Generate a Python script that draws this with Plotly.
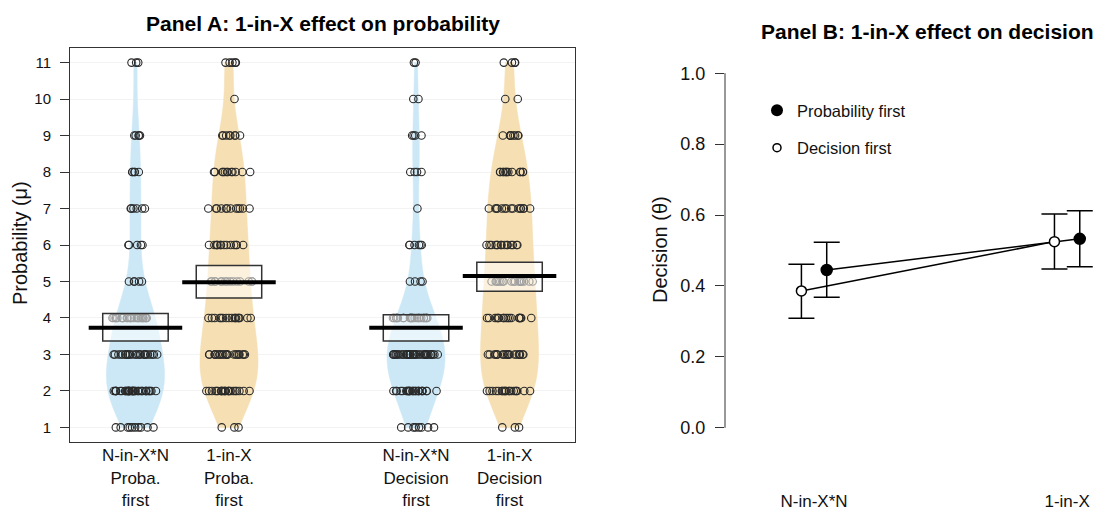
import numpy as np
import plotly.graph_objects as go

# ---------------- data ----------------
levels = list(range(1, 12))
group_labels = ["N-in-X*N<br>Proba.<br>first", "1-in-X<br>Proba.<br>first",
                "N-in-X*N<br>Decision<br>first", "1-in-X<br>Decision<br>first"]
group_pos = [1, 2, 4, 5]
counts_nxn_proba = [10, 38, 26, 24, 5, 5, 6, 5, 5, 0, 3]
counts_1x_proba = [3, 23, 22, 17, 15, 14, 12, 12, 8, 1, 5]
counts_nxn_dec = [8, 26, 40, 22, 4, 6, 1, 4, 4, 2, 2]
counts_1x_dec = [3, 20, 20, 18, 17, 15, 15, 13, 8, 2, 4]
mean_a = [3.73, 4.98, 3.73, 5.15]
ci_low_a = [3.37, 4.55, 3.37, 4.73]
ci_high_a = [4.12, 5.44, 4.09, 5.53]

b_categories = ["N-in-X*N", "1-in-X"]
b_pos = [1, 2]
prob_first = [0.445, 0.533]
prob_first_lo = [0.368, 0.454]
prob_first_hi = [0.523, 0.612]
dec_first = [0.386, 0.525]
dec_first_lo = [0.309, 0.448]
dec_first_hi = [0.461, 0.603]

# ---------------- style ----------------
FONT = "Liberation Sans, Arial, sans-serif"
BLUE = "#cce8f6"
ORANGE = "#f5dfb3"
violin_colors = [BLUE, ORANGE, BLUE, ORANGE]
W, H = 1099, 511


def px_x(p):
    return p / W


def px_y(p):
    return 1 - p / H


fig = go.Figure()

all_counts = [counts_nxn_proba, counts_1x_proba, counts_nxn_dec, counts_1x_dec]
for counts, pos, col in zip(all_counts, group_pos, violin_colors):
    vals = np.repeat(levels, counts)
    fig.add_trace(go.Violin(
        y=vals, x0=pos, xaxis="x", yaxis="y",
        width=0.62, scalemode="width", spanmode="hard", bandwidth=0.8,
        fillcolor=col, line=dict(color=col, width=0.5),
        points="all", pointpos=0, jitter=0.8,
        marker=dict(symbol="circle-open", size=7.5, color="#2a2a2a",
                    line=dict(width=1.1, color="#2a2a2a")),
        box_visible=False, meanline_visible=False,
        showlegend=False, hoverinfo="skip"))

shapes = []
for pos, m, lo, hi in zip(group_pos, mean_a, ci_low_a, ci_high_a):
    shapes.append(dict(type="rect", xref="x", yref="y", x0=pos - 0.35, x1=pos + 0.35,
                       y0=lo, y1=hi, fillcolor="rgba(255,255,255,0.55)",
                       line=dict(color="#333", width=1.5), layer="above"))
    shapes.append(dict(type="line", xref="x", yref="y", x0=pos - 0.5, x1=pos + 0.5,
                       y0=m, y1=m, line=dict(color="black", width=4), layer="above"))

# Panel B
dodge = 0.05
fig.add_trace(go.Scatter(
    x=[p + dodge for p in b_pos], y=prob_first, xaxis="x2", yaxis="y2",
    mode="lines+markers", line=dict(color="black", width=1.5),
    marker=dict(symbol="circle", size=11, color="black", line=dict(color="black", width=1.5)),
    error_y=dict(type="data", symmetric=False,
                 array=[h - v for h, v in zip(prob_first_hi, prob_first)],
                 arrayminus=[v - l for l, v in zip(prob_first_lo, prob_first)],
                 color="black", thickness=1.5, width=13),
    showlegend=False, hoverinfo="skip"))
fig.add_trace(go.Scatter(
    x=[p - dodge for p in b_pos], y=dec_first, xaxis="x2", yaxis="y2",
    mode="lines+markers", line=dict(color="black", width=1.5),
    marker=dict(symbol="circle", size=10, color="white", line=dict(color="black", width=1.5)),
    error_y=dict(type="data", symmetric=False,
                 array=[h - v for h, v in zip(dec_first_hi, dec_first)],
                 arrayminus=[v - l for l, v in zip(dec_first_lo, dec_first)],
                 color="black", thickness=1.5, width=13),
    showlegend=False, hoverinfo="skip"))
# legend entries
fig.add_trace(go.Scatter(x=[None], y=[None], xaxis="x2", yaxis="y2", mode="markers",
                         name="Probability first", legendgroup="a",
                         marker=dict(symbol="circle", size=12, color="black")))
fig.add_trace(go.Scatter(x=[None], y=[None], xaxis="x2", yaxis="y2", mode="markers",
                         name="Decision first", legendgroup="b",
                         marker=dict(symbol="circle", size=8, color="white",
                                     line=dict(color="black", width=1.5))))

shapes.append(dict(type="line", xref="x2 domain", yref="y2", x0=0, x1=0, y0=0, y1=1,
                   line=dict(color="#333", width=1), layer="above"))

annotations = [
    dict(text="<b>Panel A: 1-in-X effect on probability</b>", x=px_x(322.5), y=px_y(23),
         xref="paper", yref="paper", xanchor="center", yanchor="middle", showarrow=False,
         font=dict(family=FONT, size=21, color="black")),
    dict(text="<b>Panel B: 1-in-X effect on decision</b>", x=px_x(927), y=px_y(31),
         xref="paper", yref="paper", xanchor="center", yanchor="middle", showarrow=False,
         font=dict(family=FONT, size=21, color="black")),
    dict(text="Probability (\u03bc)", x=px_x(20), y=px_y(243), textangle=-90,
         xref="paper", yref="paper", xanchor="center", yanchor="middle", showarrow=False,
         font=dict(family=FONT, size=20, color="#111")),
    dict(text="Decision (\u03b8)", x=px_x(660), y=px_y(250), textangle=-90,
         xref="paper", yref="paper", xanchor="center", yanchor="middle", showarrow=False,
         font=dict(family=FONT, size=20, color="#111")),
]

fig.update_layout(
    width=W, height=H, margin=dict(l=0, r=0, t=0, b=0),
    paper_bgcolor="white", plot_bgcolor="white",
    font=dict(family=FONT, color="#111"),
    violinmode="overlay",
    shapes=shapes, annotations=annotations,
    showlegend=True,
    legend=dict(x=px_x(757), y=px_y(93), xanchor="left", yanchor="top",
                bgcolor="rgba(0,0,0,0)", borderwidth=0, tracegroupgap=13,
                font=dict(family=FONT, size=16.5, color="#111")),
    xaxis=dict(domain=[px_x(70), px_x(575)], range=[0.3, 5.7], type="linear",
               tickmode="array", tickvals=group_pos, ticktext=group_labels,
               ticks="", showgrid=False, zeroline=False,
               showline=True, mirror=True, linecolor="#333", linewidth=1,
               ticklabelstandoff=-2,
               tickfont=dict(family=FONT, size=17, color="#111"), automargin=False),
    yaxis=dict(domain=[px_y(442), px_y(48)], range=[0.6, 11.4],
               tickmode="array", tickvals=levels, ticktext=[str(v) for v in levels],
               ticks="outside", ticklen=9, tickcolor="#333", tickwidth=1,
               ticklabelstandoff=6,
               showgrid=True, gridcolor="#f3f3f3", gridwidth=1, zeroline=False,
               showline=True, mirror=True, linecolor="#333", linewidth=1,
               tickfont=dict(family=FONT, size=15, color="#111"), automargin=False),
    xaxis2=dict(domain=[px_x(725), 1.0], range=[0.648, 2.126], type="linear",
                anchor="y2", tickmode="array", tickvals=b_pos, ticktext=b_categories,
                ticks="", showgrid=False, zeroline=False, showline=False,
                ticklabelstandoff=47,
                tickfont=dict(family=FONT, size=17, color="#111"), automargin=False),
    yaxis2=dict(domain=[px_y(442), px_y(59)], range=[-0.04, 1.04], anchor="x2",
                tickmode="array", tickvals=[0, 0.2, 0.4, 0.6, 0.8, 1.0],
                ticktext=["0.0", "0.2", "0.4", "0.6", "0.8", "1.0"],
                ticks="outside", ticklen=9, tickcolor="#333", tickwidth=1,
                ticklabelstandoff=6,
                showgrid=False, zeroline=False, showline=False,
                tickfont=dict(family=FONT, size=18, color="#111"), automargin=False),
)

fig.write_html("out.html", config={"displayModeBar": False},
               post_script="document.body.style.margin='0';document.body.style.overflow='hidden';")
